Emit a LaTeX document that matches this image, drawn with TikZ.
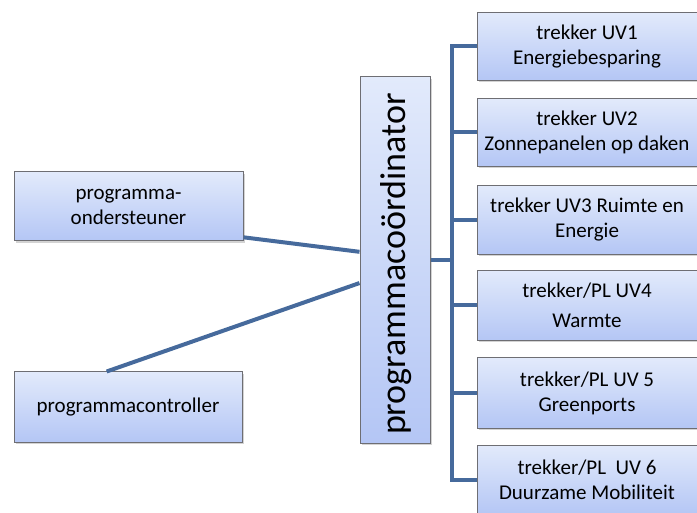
\documentclass[tikz,border=0pt]{standalone}
\usepackage{fontspec}
\setmainfont{Carlito}
\usepackage{tikz}
\usetikzlibrary{shadows}

\definecolor{boxtop}{RGB}{226,234,251}
\definecolor{boxbot}{RGB}{180,198,245}
\definecolor{boxline}{RGB}{110,110,115}
\definecolor{linkblue}{RGB}{70,106,156}

\begin{document}
\begin{tikzpicture}[x=1pt,y=-1pt,
  box/.style={draw=boxline,line width=1pt,top color=boxtop,bottom color=boxbot,
    drop shadow={shadow xshift=2pt,shadow yshift=-2pt,opacity=0.35},
    align=center,font=\fontsize{21}{25}\selectfont,inner sep=1pt},
  link/.style={draw=linkblue,line width=4pt}]
\useasboundingbox (0,0) rectangle (697,513);
% left side
\node[box,minimum width=229pt,minimum height=69pt] (ond) at (128.5,206.5) {programma-\\ondersteuner};
\node[box,minimum width=228pt,minimum height=70pt] (ctrl) at (128,407) {programmacontroller};
% centre
\node[box,minimum width=70pt,minimum height=366pt] (coord) at (395,260) {};
\node[rotate=90,font=\fontsize{36}{38}\selectfont] (coordtext) at (396,264) {programmacoördinator};
% right side
\node[box,minimum width=220pt,minimum height=68pt] (uv1) at (587,46.5) {trekker UV1\\Energiebesparing};
\node[box,minimum width=220pt,minimum height=68pt] (uv2) at (587,132.5) {trekker UV2\\Zonnepanelen op daken};
\node[box,minimum width=220pt,minimum height=69pt] (uv3) at (587,220) {trekker UV3 Ruimte en\\Energie};
\node[box,minimum width=220pt,minimum height=70pt] (uv4) at (587,305.5) {trekker/PL UV4\\[5pt]Warmte};
\node[box,minimum width=220pt,minimum height=70pt] (uv5) at (587,393) {trekker/PL UV 5\\Greenports};
\node[box,minimum width=220pt,minimum height=70pt] (uv6) at (587,480) {trekker/PL\ \ UV 6\\Duurzame Mobiliteit};
% connectors
\draw[link] (ond.-15) -- (coord.167);
\draw[link] (ctrl.121) -- (coord.213);
\coordinate (bus) at (452,260);
\draw[link] (coord.east |- bus) -- (bus);
\draw[link] (uv1.west) -- (bus |- uv1.west) -- (bus |- uv6.west) -- (uv6.west);
\draw[link] (bus |- uv2.west) -- (uv2.west);
\draw[link] (bus |- uv3.west) -- (uv3.west);
\draw[link] (bus |- uv4.west) -- (uv4.west);
\draw[link] (bus |- uv5.west) -- (uv5.west);
\end{tikzpicture}
\end{document}
